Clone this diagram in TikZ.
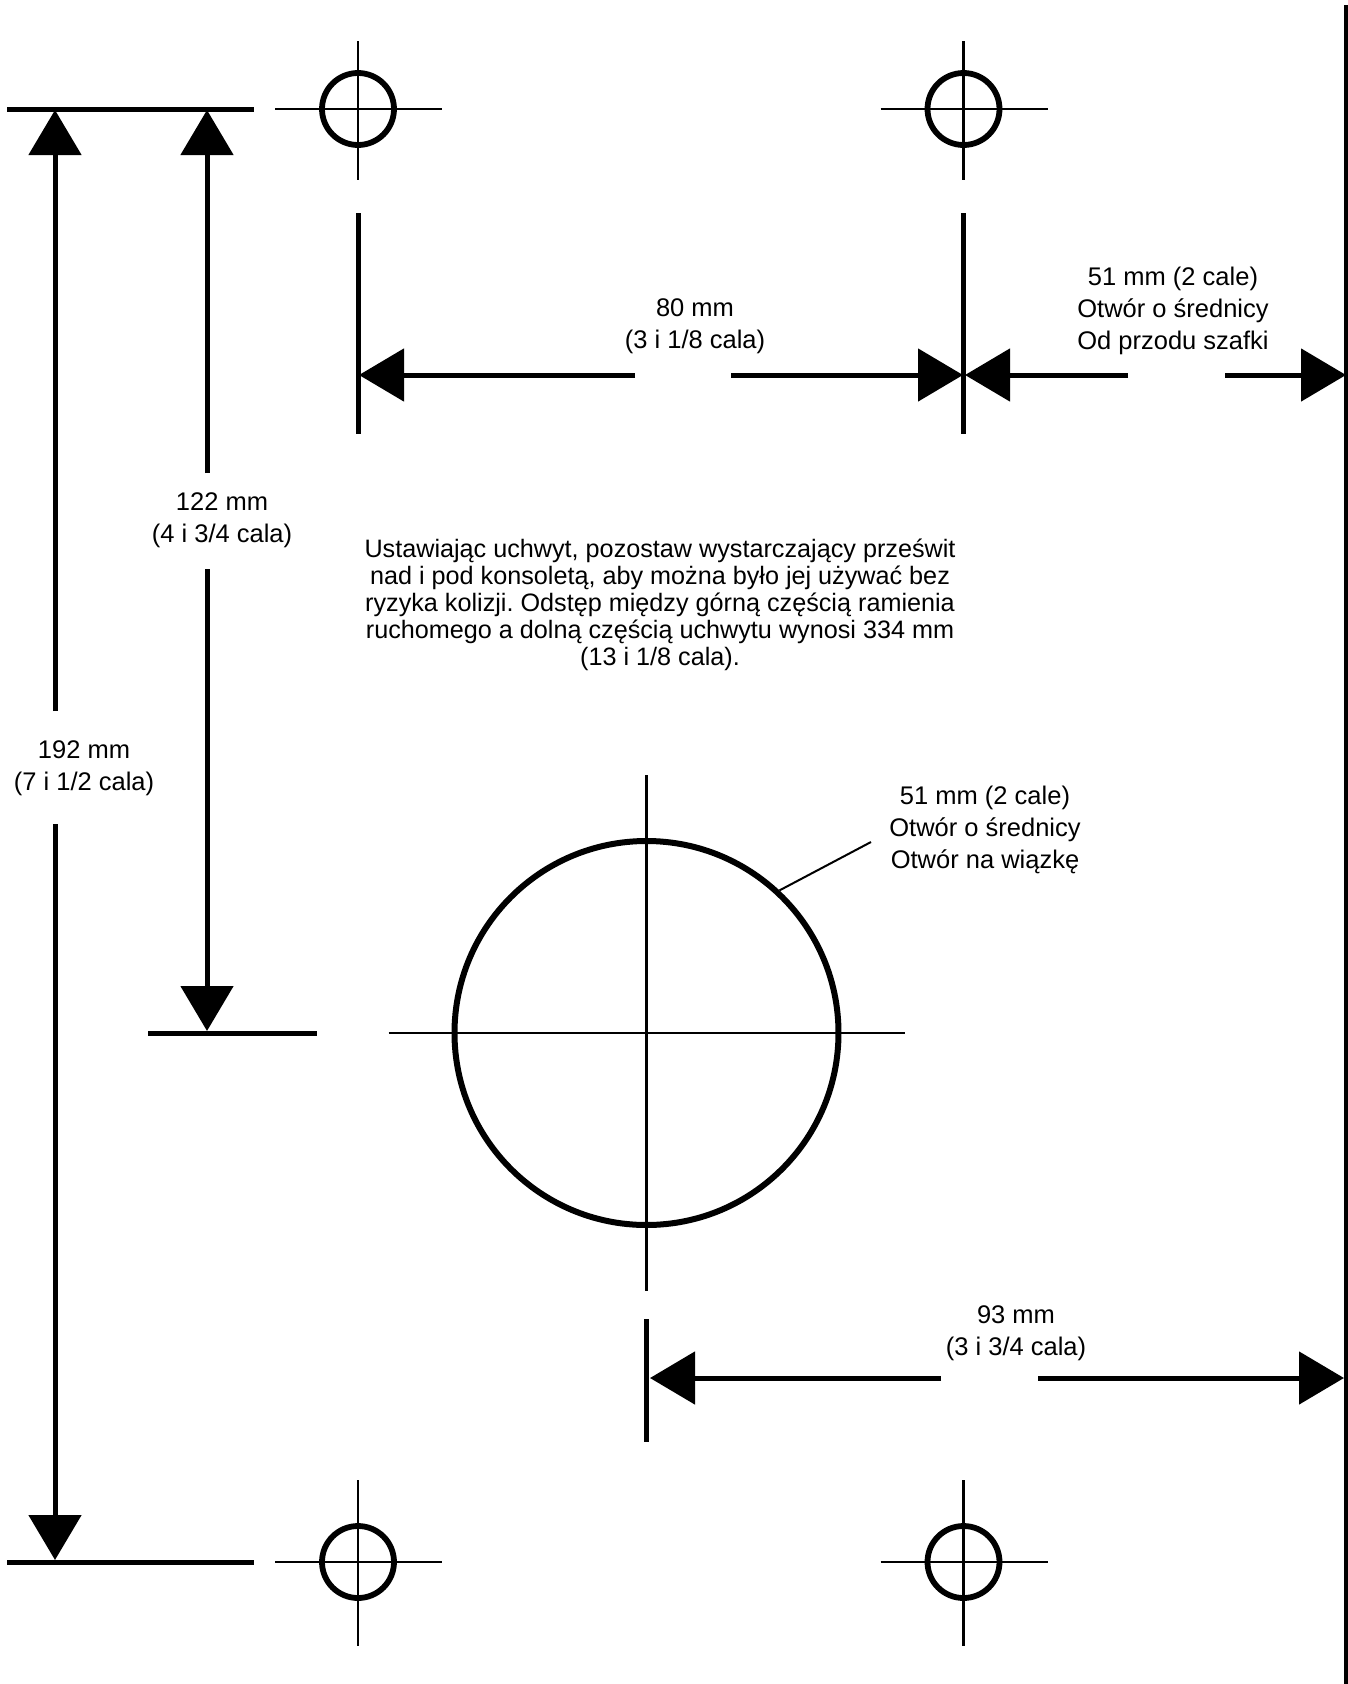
\documentclass[tikz,border=0pt]{standalone}
\usepackage{fontspec}
\setmainfont{Liberation Sans}
\usetikzlibrary{arrows.meta}
\tikzstyle{hole}=[circle, draw, line width=5.8pt, minimum size=72pt, inner sep=0pt]
\tikzstyle{bighole}=[circle, draw, line width=6pt, minimum size=384pt, inner sep=0pt]
\tikzstyle{hair}=[line width=2.5pt]
\tikzstyle{leader}=[line width=2pt]
\tikzstyle{rule}=[line width=5pt]
\tikzstyle{dim}=[line width=5pt, -{Triangle[length=45pt, width=52pt]}]
\tikzstyle{label}=[align=center, inner sep=0pt, font=\frenchspacing\fontsize{25.5}{32}\selectfont]
\tikzstyle{para}=[align=center, inner sep=0pt, font=\frenchspacing\fontsize{25.2}{27}\selectfont]

\begin{document}
\begin{tikzpicture}[x=1pt, y=-1pt]
    \useasboundingbox (0, 0) rectangle (1348, 1684);
    % mounting holes
    \foreach \name/\x/\y/\up/\down in {tl/358/109/68/71, tr/963.5/109/68/71, bl/358/1562/82/84, br/963.5/1562/82/84} {
        \node[hole] (\name) at (\x, \y) {};
        \draw[hair] ([yshift=\up pt]\name.center)--([yshift=-\down pt]\name.center);
        \draw[hair] ([xshift=-83pt]\name.center)--([xshift=84pt]\name.center);
    }
    \node[bighole] (beam) at (646.5, 1033) {};
    \draw[hair] ([yshift=258pt]beam.center)--([yshift=-258pt]beam.center);
    \draw[hair] ([xshift=-258pt]beam.center)--([xshift=258pt]beam.center);

    % extension lines
    \coordinate (edgea) at (1346, 5);
    \coordinate (edgeb) at (1346, 1684);
    \draw[rule] (edgea)--(edgeb);
    \foreach \name/\xa/\ya/\xb/\yb in {topa/7/109/254/109, bota/7/1562/254/1562, mida/148/1033/317/1033,
            vla/358/213/358/434, vra/963.5/213/963.5/434, vma/646.5/1319/646.5/1442} {
        \coordinate (\name s) at (\xa, \ya);
        \coordinate (\name e) at (\xb, \yb);
        \draw[rule] (\name s)--(\name e);
    }

    % labels
    \node[label] (h192) at (84, 768) {192 mm\\(7 i 1/2 cala)};
    \node[label] (h122) at (222, 520) {122 mm\\(4 i 3/4 cala)};
    \node[label] (w80) at (695, 326) {80 mm\\(3 i 1/8 cala)};
    \node[label] (w51) at (1173, 311) {51 mm (2 cale)\\Otwór o średnicy\\Od przodu szafki};
    \node[label] (w93) at (1016, 1333) {93 mm\\(3 i 3/4 cala)};
    \node[label] (dia) at (985, 830) {51 mm (2 cale)\\Otwór o średnicy\\Otwór na wiązkę};
    \node[para] (note) at (660, 605) {Ustawiając uchwyt, pozostaw wystarczający prześwit\\nad i pod konsoletą, aby można było jej używać bez\\ryzyka kolizji. Odstęp między górną częścią ramienia\\ruchomego a dolną częścią uchwytu wynosi 334 mm\\(13 i 1/8 cala).};

    % dimension arrows
    \coordinate (a1) at (55, 711);
    \coordinate (a1t) at (55, 110);
    \coordinate (a2) at (55, 824);
    \coordinate (a2t) at (55, 1560);
    \coordinate (b1) at (207, 473);
    \coordinate (b1t) at (207, 110);
    \coordinate (b2) at (207, 569);
    \coordinate (b2t) at (207, 1031);
    \coordinate (c1) at (635, 375);
    \coordinate (c1t) at (359, 375);
    \coordinate (c2) at (731, 375);
    \coordinate (c2t) at (963, 375);
    \coordinate (d1) at (1128, 375);
    \coordinate (d1t) at (965, 375);
    \coordinate (d2) at (1225, 375);
    \coordinate (d2t) at (1346, 375);
    \coordinate (e1) at (941, 1378);
    \coordinate (e1t) at (650, 1378);
    \coordinate (e2) at (1038, 1378);
    \coordinate (e2t) at (1344, 1378);
    \foreach \from/\to in {a1/a1t, a2/a2t, b1/b1t, b2/b2t, c1/c1t, c2/c2t, d1/d1t, d2/d2t, e1/e1t, e2/e2t}
        \draw[dim] (\from)--(\to);

    % leader
    \coordinate (lead) at (871, 842);
    \draw[leader] (lead)--(beam.47);
\end{tikzpicture}
\end{document}
